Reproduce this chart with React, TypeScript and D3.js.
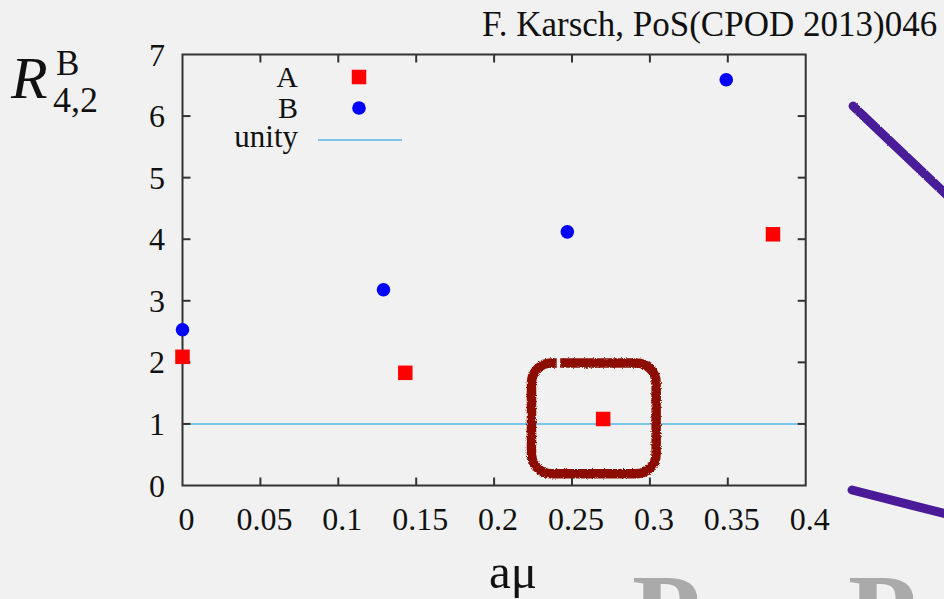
import React from "react";
import * as d3 from "d3";

// Ratio R^B_{4,2} versus aμ for two data sets
const seriesAx = [0, 0.143, 0.27, 0.379];
const seriesAy = [2.09, 1.83, 1.08, 4.08];
const seriesBx = [0, 0.129, 0.247, 0.349];
const seriesBy = [2.53, 3.18, 4.12, 6.59];
const unityValue = 1;

const xTickValues = [0, 0.05, 0.1, 0.15, 0.2, 0.25, 0.3, 0.35, 0.4];
const xTickLabels = ["0", "0.05", "0.1", "0.15", "0.2", "0.25", "0.3", "0.35", "0.4"];
const yTickValues = [0, 1, 2, 3, 4, 5, 6, 7];
const yTickLabels = ["0", "1", "2", "3", "4", "5", "6", "7"];

// Highlighted region (data units) around the third A point
const highlightX = [0.224, 0.304];
const highlightY = [0.19, 1.99];

const W = 944;
const H = 599;
const left = 182.5;
const right = 805.7;
const top = 54.5;
const bottom = 485.5;

const serif = "'Liberation Serif', 'Times New Roman', serif";

export default function App() {
  const x = d3.scaleLinear().domain([0, 0.4]).range([left, right]);
  const y = d3.scaleLinear().domain([0, 7]).range([bottom, top]);

  const A = seriesAx.map((v, i) => ({ x: v, y: seriesAy[i] }));
  const B = seriesBx.map((v, i) => ({ x: v, y: seriesBy[i] }));

  const sq = 14.5;
  const tickLen = 8;

  const hx0 = x(highlightX[0]);
  const hx1 = x(highlightX[1]);
  const hy0 = y(highlightY[1]);
  const hy1 = y(highlightY[0]);

  return (
    <svg
      width={W}
      height={H}
      viewBox={`0 0 ${W} ${H}`}
      style={{ position: "fixed", left: 0, top: 0, display: "block", background: "#f1f1f1" }}
    >
      <defs>
        <filter id="marker" x="-10%" y="-10%" width="120%" height="120%">
          <feTurbulence type="fractalNoise" baseFrequency="0.9" numOctaves="2" seed="3" result="n" />
          <feDisplacementMap in="SourceGraphic" in2="n" scale="3.5" xChannelSelector="R" yChannelSelector="G" />
          <feGaussianBlur stdDeviation="0.6" />
        </filter>
        <filter id="pen" x="-10%" y="-10%" width="120%" height="120%">
          <feTurbulence type="fractalNoise" baseFrequency="0.6" numOctaves="2" seed="7" result="n" />
          <feDisplacementMap in="SourceGraphic" in2="n" scale="2" xChannelSelector="R" yChannelSelector="G" />
          <feGaussianBlur stdDeviation="0.7" />
        </filter>
      </defs>
      <rect x={0} y={0} width={W} height={H} fill="#f1f1f1" />

      {/* header */}
      <text x={482} y={36} fontFamily={serif} fontSize={35} fill="#111">
        F. Karsch, PoS(CPOD 2013)046
      </text>

      {/* y-axis title */}
      <text x={11} y={98} fontFamily={serif} fontSize={60} fontStyle="italic" fill="#111">
        R
      </text>
      <text x={56} y={75} fontFamily={serif} fontSize={35} fill="#111">
        B
      </text>
      <text x={53} y={112} fontFamily={serif} fontSize={36} fill="#111">
        4,2
      </text>

      {/* x-axis title */}
      <text x={513} y={588} textAnchor="middle" fontFamily={serif} fontSize={49} fill="#111">
        aμ
      </text>

      {/* unity line */}
      <line
        x1={left}
        x2={right}
        y1={y(unityValue)}
        y2={y(unityValue)}
        stroke="#55b4ea"
        strokeWidth={1.6}
      />

      {/* frame and ticks */}
      <rect x={left} y={top} width={right - left} height={bottom - top} fill="none" stroke="#333" strokeWidth={2} />
      {xTickValues.map((v, i) =>
        i === 0 || i === xTickValues.length - 1 ? null : (
          <g key={"xt" + i} stroke="#333" strokeWidth={2}>
            <line x1={x(v)} x2={x(v)} y1={bottom} y2={bottom - tickLen} />
            <line x1={x(v)} x2={x(v)} y1={top} y2={top + tickLen} />
          </g>
        )
      )}
      {yTickValues.map((v, i) =>
        i === 0 || i === yTickValues.length - 1 ? null : (
          <g key={"yt" + i} stroke="#333" strokeWidth={2}>
            <line x1={left} x2={left + tickLen} y1={y(v)} y2={y(v)} />
            <line x1={right} x2={right - tickLen} y1={y(v)} y2={y(v)} />
          </g>
        )
      )}
      {xTickValues.map((v, i) => (
        <text
          key={"xl" + i}
          x={x(v) + 4}
          y={530}
          textAnchor="middle"
          fontFamily={serif}
          fontSize={32}
          fill="#111"
        >
          {xTickLabels[i]}
        </text>
      ))}
      {yTickValues.map((v, i) => (
        <text
          key={"yl" + i}
          x={165}
          y={y(v) + 11}
          textAnchor="end"
          fontFamily={serif}
          fontSize={32}
          fill="#111"
        >
          {yTickLabels[i]}
        </text>
      ))}

      {/* data points */}
      {B.map((d, i) => (
        <circle key={"b" + i} cx={x(d.x)} cy={y(d.y)} r={6.8} fill="#0000ff" />
      ))}
      {A.map((d, i) => (
        <rect key={"a" + i} x={x(d.x) - sq / 2} y={y(d.y) - sq / 2} width={sq} height={sq} fill="#ff0000" />
      ))}

      {/* legend */}
      <text x={298} y={87} textAnchor="end" fontFamily={serif} fontSize={30} fill="#111">A</text>
      <rect x={359 - sq / 2} y={77 - sq / 2} width={sq} height={sq} fill="#ff0000" />
      <text x={298} y={118} textAnchor="end" fontFamily={serif} fontSize={30} fill="#111">B</text>
      <circle cx={359} cy={108} r={6.8} fill="#0000ff" />
      <text x={298} y={147} textAnchor="end" fontFamily={serif} fontSize={31} fill="#111">unity</text>
      <line x1={318} x2={402} y1={140} y2={140} stroke="#55b4ea" strokeWidth={1.6} />

      {/* hand-drawn highlight */}
      <rect
        x={hx0}
        y={hy0}
        width={hx1 - hx0}
        height={hy1 - hy0}
        rx={20}
        ry={20}
        fill="none"
        stroke="#8c0e02"
        strokeWidth={9.5}
        pathLength={1000}
        strokeDasharray="12 8 980"
        filter="url(#marker)"
      />

      {/* pen strokes in the margin */}
      <line x1={853} y1={106} x2={950} y2={198} stroke="#4a1a98" strokeWidth={9} strokeLinecap="round" filter="url(#pen)" />
      <line x1={852} y1={490} x2={950} y2={515} stroke="#4a1a98" strokeWidth={9} strokeLinecap="round" />

      {/* large grey letters at the bottom edge */}
      <text x={632} y={652} fontFamily={serif} fontSize={112} fontWeight="bold" fill="#aaaaaa">P</text>
      <text x={848} y={652} fontFamily={serif} fontSize={112} fontWeight="bold" fill="#aaaaaa">P</text>
    </svg>
  );
}
